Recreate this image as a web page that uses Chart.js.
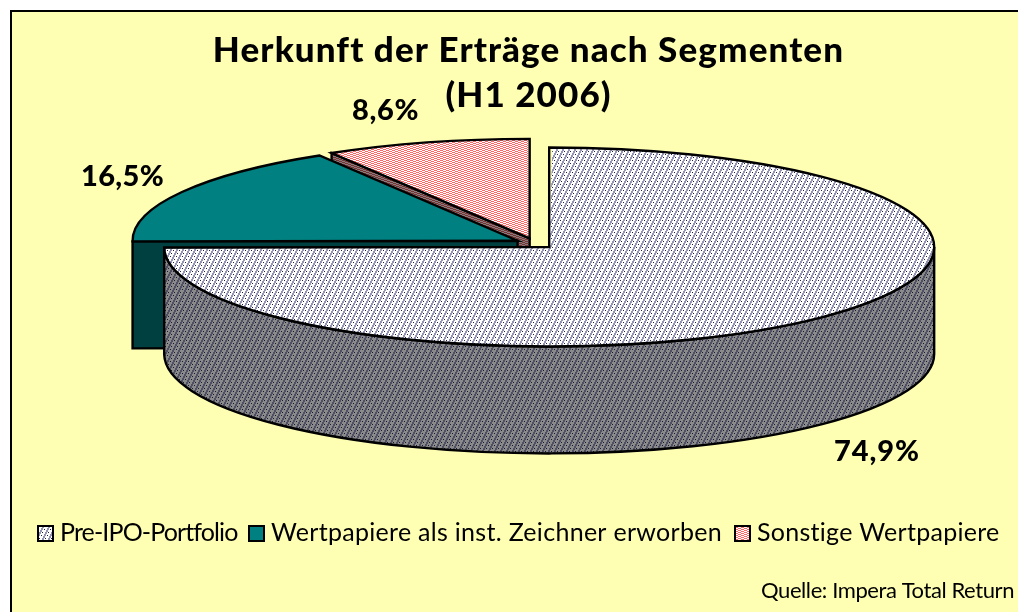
<!DOCTYPE html>
<html><head><meta charset="utf-8">
<style>html,body{margin:0;padding:0;background:#fff}canvas{display:block}</style>
<script src="https://cdn.jsdelivr.net/npm/chart.js@4"></script>
</head><body><canvas id="c" width="1018" height="612"></canvas>
<script>
const categories = ['Pre-IPO-Portfolio', 'Wertpapiere als inst. Zeichner erworben', 'Sonstige Wertpapiere'];
const values = [74.9, 16.5, 8.6];
const titleLines = ['Herkunft der Erträge nach Segmenten', '(H1 2006)'];
const sourceText = 'Quelle: Impera Total Return';

const SQUASH = 0.2584, DEPTH = 107, CX = 535, CY = 243.3, OFFSET = 20, RADIUS = 385, EDGE = 2.4;
const FONT = 'Lato, "Open Sans", sans-serif';

function tile(rows, map) {
  const c = document.createElement('canvas');
  c.width = rows[0].length; c.height = rows.length;
  const g = c.getContext('2d');
  rows.forEach((r, y) => [...r].forEach((ch, x) => { g.fillStyle = map[ch]; g.fillRect(x, y, 1, 1); }));
  return c;
}
const dotRows = ['a....a', 'a.n..a', '....aa', '....aa', 'n..aa.', '...aa.', '..aa..', '..aa.n', '.aa...', '.aa...', 'aa.n..', 'aa....'];
const pinkRows = ['rrr...', '...rrr'];
function pat(rows, map) {
  return document.createElement('canvas').getContext('2d').createPattern(tile(rows, map), 'repeat');
}
const bigMap = {'.':'#ffffff', a:'#9494b4', n:'#20204a'};
const bigWallMap = {'.':'#8a8a8a', a:'#505064', n:'#181830'};
const pinkMap = {'.':'#ffffff', r:'#ff6666'};
const pinkWallMap = {'.':'#808080', r:'#803030'};
const fills = [pat(dotRows, bigMap), '#008080', pat(pinkRows, pinkMap)];
const walls = [pat(dotRows, bigWallMap), '#004040', pat(pinkRows, pinkWallMap)];
const legendFills = [pat(dotRows, bigMap), '#008080', pat(pinkRows, pinkMap)];

function geom(el) {
  const p = el.getProps(['x','y','startAngle','endAngle','outerRadius','circumference']);
  const mid = (p.startAngle + p.endAngle) / 2, off = (el.options.offset || 0) / 4;
  // radius the library really fills with for this arc
  const libR = p.outerRadius + off * (1 - Math.sin(Math.min(Math.PI, p.circumference)));
  return {cx: CX + Math.cos(mid) * off, cy: CY + Math.sin(mid) * off * SQUASH,
    r: RADIUS, ry: RADIUS * SQUASH, k: RADIUS / libR, s: p.startAngle, e: p.endAngle,
    ax: p.x + Math.cos(mid) * off, ay: p.y + Math.sin(mid) * off};
}
function strokeFill(ctx, fill) {
  ctx.fillStyle = fill; ctx.fill();
  ctx.strokeStyle = '#000'; ctx.lineWidth = EDGE; ctx.lineJoin = 'miter'; ctx.stroke();
}
function cutWall(ctx, g, a, fill) {
  const ox = g.cx + Math.cos(a) * g.r, oy = g.cy + Math.sin(a) * g.ry;
  ctx.beginPath();
  ctx.moveTo(g.cx, g.cy); ctx.lineTo(ox, oy); ctx.lineTo(ox, oy + DEPTH); ctx.lineTo(g.cx, g.cy + DEPTH); ctx.closePath();
  strokeFill(ctx, fill);
}
function frontWall(ctx, g, fill) {
  const a0 = Math.max(g.s, 0), a1 = Math.min(g.e, Math.PI);
  ctx.beginPath();
  ctx.ellipse(g.cx, g.cy, g.r, g.ry, 0, a0, a1);
  ctx.ellipse(g.cx, g.cy + DEPTH, g.r, g.ry, 0, a1, a0, true);
  ctx.closePath();
  strokeFill(ctx, fill);
}
function drawTop(ctx, el, g) {
  const fill = el.options.backgroundColor;
  if (fill instanceof CanvasPattern) {
    // keep the hatch at one device pixel per tile pixel inside the squashed top
    fill.setTransform(new DOMMatrix().scale(1 / g.k, 1 / (SQUASH * g.k)));
  }
  ctx.save();
  ctx.imageSmoothingEnabled = false;
  ctx.translate(g.cx, g.cy); ctx.scale(g.k, SQUASH * g.k); ctx.translate(-g.ax, -g.ay);
  el.draw(ctx);
  ctx.restore();
  ctx.beginPath();
  ctx.moveTo(g.cx, g.cy);
  ctx.ellipse(g.cx, g.cy, g.r, g.ry, 0, g.s, g.e);
  ctx.closePath();
  ctx.strokeStyle = '#000'; ctx.lineWidth = EDGE; ctx.lineJoin = 'miter'; ctx.stroke();
}
function fitText(ctx, text, x, y, width) {
  ctx.letterSpacing = '0px';
  const w = ctx.measureText(text).width;
  ctx.letterSpacing = ((width - w) / text.length) + 'px';
  ctx.fillText(text, x, y);
  ctx.letterSpacing = '0px';
}

const pie3d = {
  id: 'pie3d',
  beforeDraw(chart) {
    const ctx = chart.ctx;
    ctx.save();
    ctx.fillStyle = '#ffffff'; ctx.fillRect(0, 0, 1018, 612);
    ctx.fillStyle = '#ffffb4'; ctx.fillRect(10, 10, 1008, 602);
    ctx.fillStyle = '#000'; ctx.fillRect(10, 10, 1008, 2); ctx.fillRect(10, 10, 2, 602);
    ctx.restore();
    ctx.letterSpacing = '1.1px';
  },
  beforeDatasetDraw(chart, args) {
    const ctx = chart.ctx, els = args.meta.data;
    ctx.letterSpacing = '0px';
    ctx.save();
    // back to front: Sonstige, Wertpapiere, Pre-IPO
    const gP = geom(els[2]), gT = geom(els[1]), gB = geom(els[0]);
    cutWall(ctx, gP, gP.s, walls[2]);
    drawTop(ctx, els[2], gP);
    cutWall(ctx, gT, gT.s, walls[1]);
    drawTop(ctx, els[1], gT);
    frontWall(ctx, gB, walls[0]);
    drawTop(ctx, els[0], gB);
    ctx.restore();
    return false;
  },
  afterDatasetsDraw(chart) {
    const ctx = chart.ctx;
    ctx.save();
    ctx.fillStyle = '#000';
    ctx.textBaseline = 'alphabetic'; ctx.textAlign = 'left';
    // value labels
    const lab = [[834, 461], [81, 186], [352, 120]];
    ctx.font = '900 29px ' + FONT;
    values.forEach((v, i) => {
      const t = v.toFixed(1).replace('.', ',') + '%';
      fitText(ctx, t, lab[i][0], lab[i][1], [86, 83, 67][i]);
    });
    // legend
    const boxX = [38, 249, 735], txtX = [60, 271, 757], txtW = [177, 451, 243];
    ctx.font = '400 25px ' + FONT;
    categories.forEach((c, i) => {
      ctx.fillStyle = legendFills[i];
      ctx.fillRect(boxX[i], 526, 15, 15);
      ctx.strokeStyle = '#000'; ctx.lineWidth = 2; ctx.strokeRect(boxX[i], 526, 15, 15);
      ctx.fillStyle = '#000';
      fitText(ctx, c, txtX[i], 541, txtW[i]);
    });
    ctx.font = '400 22px ' + FONT;
    fitText(ctx, sourceText, 761, 598, 253);
    ctx.restore();
  }
};

new Chart(document.getElementById('c'), {
  type: 'pie',
  plugins: [pie3d],
  data: { labels: categories, datasets: [{ data: values, backgroundColor: fills, borderWidth: 0, offset: OFFSET * 4, hoverOffset: 0, radius: RADIUS - OFFSET }] },
  options: {
    responsive: false, animation: false, devicePixelRatio: 1,
    layout: { padding: { left: 39, top: 28 } },
    events: [],
    plugins: {
      legend: { display: false }, tooltip: { enabled: false },
      title: { display: true, text: titleLines, color: '#000', padding: 0,
        font: { family: FONT, size: 35, weight: '900', lineHeight: 1.285 } }
    }
  }
});
</script></body></html>
